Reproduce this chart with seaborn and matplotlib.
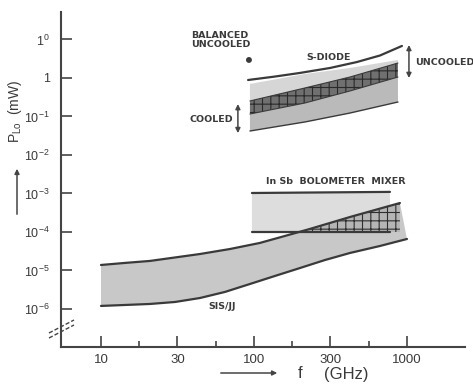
import matplotlib
matplotlib.use("Agg")
import matplotlib.pyplot as plt
import seaborn as sns

# ---------------- data ----------------
# S-diode upper limit line
sdiode_f = [91.5, 137, 199, 314, 471, 666, 927]
sdiode_p = [0.887, 1.09, 1.35, 1.82, 2.6, 3.84, 6.8]

# S-diode shaded bands (uncooled / cooled)
band_f = [94.1, 215, 424, 873]
unc_top = [0.70, 1.27, 1.82, 2.94]
dark_top = [0.253, 0.55, 1.06, 2.45]
dark_bot = [0.116, 0.224, 0.46, 1.06]
cool_bot = [0.042, 0.072, 0.123, 0.238]

# InSb bolometer mixer band
insb_f = [97, 774]
insb_top = [1.03e-3, 1.1e-3]
insb_bot = [1.0e-4, 1.0e-4]

# SIS / JJ band
sis_up_f = [10, 14.3, 20.9, 44.4, 69.6, 109, 159, 232, 424, 618, 899]
sis_up_p = [1.39e-5, 1.57e-5, 1.77e-5, 2.68e-5, 3.61e-5, 5.18e-5,
            7.87e-5, 1.20e-4, 2.45e-4, 3.73e-4, 5.66e-4]
sis_lo_f = [10, 14.3, 20.9, 30.5, 44.4, 64.6, 94.1, 137, 200, 291, 424, 666, 1000]
sis_lo_p = [1.2e-6, 1.27e-6, 1.35e-6, 1.52e-6, 1.93e-6, 2.77e-6, 4.46e-6,
            7.2e-6, 1.16e-5, 1.87e-5, 2.85e-5, 4.33e-5, 6.58e-5]

# overlap (SIS above InSb lower limit)
overlap_f = [197, 232, 424, 618, 899, 899]
overlap_p = [1.0e-4, 1.20e-4, 2.45e-4, 3.73e-4, 5.66e-4, 1.0e-4]

# balanced uncooled point
balanced_f = [92.7]
balanced_p = [2.94]

xtick_vals = [10, 31.6, 100, 316, 1000]
xtick_labels = ["10", "30", "100", "300", "1000"]
xminor_vals = [17.8, 56.2, 178, 562]
ytick_vals = [10, 1, 1e-1, 1e-2, 1e-3, 1e-4, 1e-5, 1e-6]
ytick_labels = ["1$^0$", "1", "10$^{-1}$", "10$^{-2}$", "10$^{-3}$",
                "10$^{-4}$", "10$^{-5}$", "10$^{-6}$"]

# ---------------- figure ----------------
sns.set_style("ticks")
plt.rcParams['font.family'] = ['Liberation Sans', 'DejaVu Sans']
plt.rcParams['mathtext.fontset'] = 'custom'
plt.rcParams['mathtext.rm'] = 'Liberation Sans'
plt.rcParams['mathtext.it'] = 'Liberation Sans:italic'
plt.rcParams['mathtext.bf'] = 'Liberation Sans:bold'
plt.rcParams['hatch.linewidth'] = 0.8

INK = "#3a3a3a"
fig = plt.figure(figsize=(4.73, 3.87), dpi=100)
ax = fig.add_axes([0.129, 0.1034, 0.854, 0.8656])
ax.set_xscale("log")
ax.set_yscale("log")
ax.set_xlim(5.48, 2393)
ax.set_ylim(1.03e-7, 51.8)

# fills
ax.fill(sis_up_f + sis_lo_f[::-1], sis_up_p + sis_lo_p[::-1],
        facecolor="#c8c8c8", edgecolor="none", zorder=1)
ax.fill(insb_f + insb_f[::-1], insb_top + insb_bot[::-1],
        facecolor="#dddddd", edgecolor="none", zorder=1)
ax.fill(overlap_f, overlap_p, facecolor="#b5b5b5", edgecolor="#2e2e2e",
        hatch="++", linewidth=0, zorder=2)
ax.fill(band_f + band_f[::-1], unc_top + dark_top[::-1],
        facecolor="#d6d6d6", edgecolor="none", zorder=1)
ax.fill(band_f + band_f[::-1], dark_bot + cool_bot[::-1],
        facecolor="#bababa", edgecolor="none", zorder=1)
ax.fill(band_f + band_f[::-1], dark_top + dark_bot[::-1],
        facecolor="#707070", edgecolor="#2a2a2a", hatch="++",
        linewidth=0, zorder=2)

# boundary lines
def line(x, y, lw=1.6):
    sns.lineplot(x=x, y=y, ax=ax, color=INK, lw=lw, sort=False,
                 estimator=None, zorder=3)

line(sdiode_f, sdiode_p)
line(sis_up_f, sis_up_p)
line(sis_lo_f, sis_lo_p)
line(insb_f, insb_top)
line(insb_f, insb_bot)
line(band_f, cool_bot, lw=1.0)
line(band_f, dark_top, lw=0.8)
line(band_f, dark_bot, lw=0.8)

sns.scatterplot(x=balanced_f, y=balanced_p, ax=ax, color=INK, s=18,
                edgecolor="none", zorder=4)

# arrows
ax.annotate("", xy=(1030, 7.2), xytext=(1030, 1.0),
            arrowprops=dict(arrowstyle="<|-|>", color="#444", lw=1.1,
                            mutation_scale=7, shrinkA=0, shrinkB=0))
ax.annotate("", xy=(78.5, 0.21), xytext=(78.5, 0.037),
            arrowprops=dict(arrowstyle="<|-|>", color="#444", lw=1.1,
                            mutation_scale=7, shrinkA=0, shrinkB=0))

# labels
tk = dict(color=INK, fontsize=6.8, fontweight="bold", family=['DejaVu Sans'])
ax.text(38.7, 9.7, "BALANCED\nUNCOOLED", ha="left", va="center",
        linespacing=1.0, **tk)
ax.text(309, 3.51, "S-DIODE", ha="center", va="center", **tk)
ax.text(1127, 2.6, "UNCOOLED", ha="left", va="center", **tk)
ax.text(73, 0.086, "COOLED", ha="right", va="center", **tk)
ax.text(340, 2.11e-3, "In Sb  BOLOMETER  MIXER", ha="center", va="center", **tk)
ax.text(61.8, 1.13e-6, "SIS/JJ", ha="center", va="center", **tk)

# axes styling
for s in ["top", "right"]:
    ax.spines[s].set_visible(False)
for s in ["left", "bottom"]:
    ax.spines[s].set_color("#444")
    ax.spines[s].set_linewidth(1.5)

ax.set_xticks(xtick_vals)
ax.set_xticklabels(xtick_labels)
ax.set_xticks(xminor_vals, minor=True)
ax.set_xticklabels([], minor=True)
ax.set_yticks(ytick_vals)
ax.set_yticklabels(ytick_labels)
ax.yaxis.set_minor_locator(matplotlib.ticker.NullLocator())
ax.tick_params(axis="both", which="major", direction="in", length=8,
               width=1.2, color="#444", labelcolor=INK, labelsize=9.5)
ax.tick_params(axis="y", which="major", labelsize=9)
ax.tick_params(axis="x", which="minor", direction="in", length=4,
               width=1.2, color="#444")
ax.tick_params(axis="x", which="major", pad=5)
ax.tick_params(axis="y", which="major", pad=8)

# axis titles with arrows (figure coords)
def fx(px):
    return px / 473.0

def fy(py):
    return 1 - py / 387.0

fig.text(fx(300), fy(374), "f", fontsize=12, color=INK, ha="center", va="center")
fig.text(fx(346), fy(374), "(GHz)", fontsize=12, color=INK, ha="center", va="center")
fig.text(fx(15), fy(111), "P$_{\\mathrm{Lo}}$  (mW)", fontsize=10, color=INK,
         rotation=90, ha="center", va="center")
fig.patches.append(matplotlib.patches.FancyArrowPatch(
    (fx(218), fy(373)), (fx(280), fy(373)), transform=fig.transFigure,
    arrowstyle="-|>", mutation_scale=7, color="#444", lw=1.1))
fig.patches.append(matplotlib.patches.FancyArrowPatch(
    (fx(17), fy(217)), (fx(17), fy(166)), transform=fig.transFigure,
    arrowstyle="-|>", mutation_scale=7, color="#444", lw=1.1))

# axis break marks
for dy in (0, 5):
    fig.lines.append(matplotlib.lines.Line2D(
        [fx(49), fx(74)], [fy(333 + dy), fy(320 + dy)],
        transform=fig.transFigure, color="#444", lw=1.0, linestyle=(0, (3, 1.5))))

fig.savefig("out.png", dpi=100)
